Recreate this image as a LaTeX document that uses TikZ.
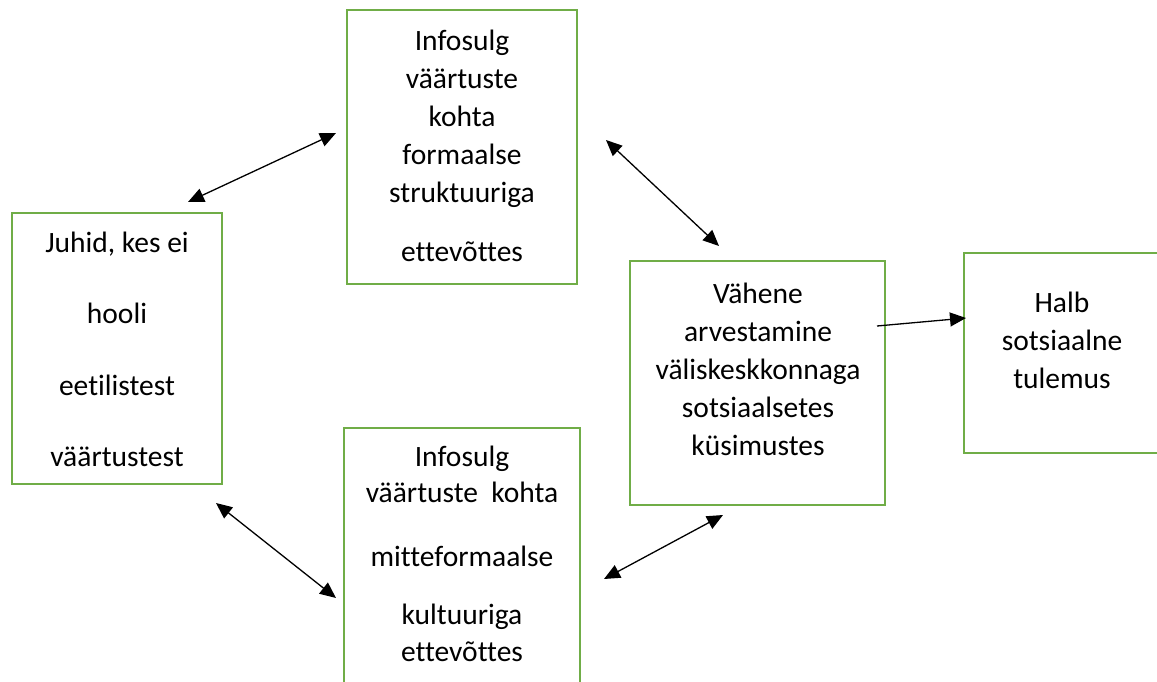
\documentclass[tikz,border=0pt]{standalone}
\usepackage{fontspec}
\setmainfont[Ligatures=NoCommon]{Carlito}
\usetikzlibrary{arrows.meta}
\definecolor{boxgreen}{HTML}{70AD47}
\begin{document}
\begin{tikzpicture}[x=1pt,y=-1pt,
  box/.style={draw=boxgreen, line width=2pt, rectangle, inner sep=0pt},
  txt/.style={align=center, font=\fontsize{29.5}{38}\selectfont, inner sep=0pt, text=black},
  biarrow/.style={arrows={Triangle[length=16pt,width=14pt]-Triangle[length=16pt,width=14pt]}, line width=1.3pt},
  uniarrow/.style={arrows={-Triangle[length=16pt,width=14pt]}, line width=1.3pt}]
\useasboundingbox (0,0) rectangle (1157,681);
\clip (0,0) rectangle (1157,681);

% boxes
\node[box, minimum width=210pt, minimum height=271pt] (b1) at (117,348.5) {};
\node[box, minimum width=230pt, minimum height=274pt] (b2) at (462,147) {};
\node[box, minimum width=255pt, minimum height=244pt] (b3) at (757.5,383) {};
\node[box, minimum width=196pt, minimum height=200pt] (b4) at (1062,353) {};
\node[box, minimum width=236pt, minimum height=292pt] (b5) at (462,574) {};

% texts
\node[txt] (t1) at (117,349.5) {Juhid, kes ei\\[33.5pt] hooli\\[33.5pt] eetilistest\\[33.5pt] väärtustest};
\node[txt] (t2) at (462,146) {Infosulg\\ väärtuste\\ kohta\\ formaalse\\ struktuuriga\\[21pt] ettevõttes};
\node[txt] (t3) at (758,369) {Vähene\\ arvestamine\\ väliskeskkonnaga\\ sotsiaalsetes\\ küsimustes};
\node[txt] (t4) at (1062,340) {Halb\\ sotsiaalne\\ tulemus};
\node[txt] (t5) at (462,554) {Infosulg\\[-2pt] väärtuste~ kohta\\[26pt] mitteformaalse\\[20pt] kultuuriga\\[-1pt] ettevõttes};

% connector ends
\coordinate (a1s) at (188,202);
\coordinate (a1e) at (336,133);
\coordinate (a2s) at (606,140);
\coordinate (a2e) at (719,246);
\coordinate (a3s) at (216,503);
\coordinate (a3e) at (336,598);
\coordinate (a4s) at (604,579);
\coordinate (a4e) at (723,515);
\coordinate (a5s) at (877,326);
\coordinate (a5e) at (966,318);

\draw[biarrow] (a1s) -- (a1e);
\draw[biarrow] (a2s) -- (a2e);
\draw[biarrow] (a3s) -- (a3e);
\draw[biarrow] (a4s) -- (a4e);
\draw[uniarrow] (a5s) -- (a5e);
\end{tikzpicture}
\end{document}
